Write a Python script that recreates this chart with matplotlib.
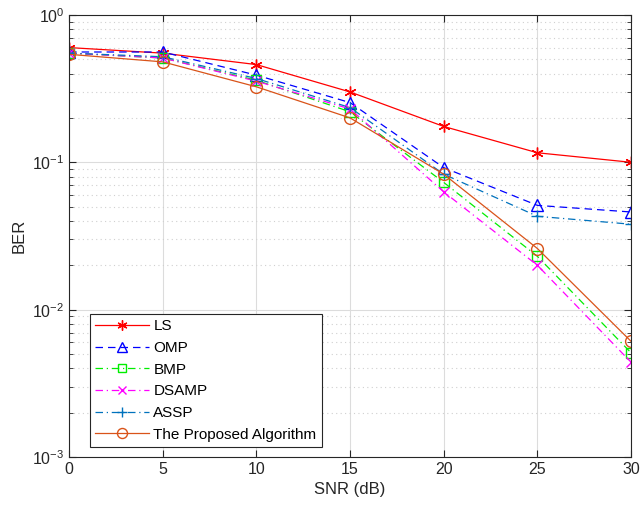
import matplotlib
matplotlib.use("Agg")
import matplotlib.pyplot as plt
from matplotlib.ticker import LogLocator, NullFormatter

plt.rcParams['font.family'] = ['Liberation Sans', 'DejaVu Sans']

snr = [0, 5, 10, 15, 20, 25, 30]
ber_ls = [0.60, 0.55, 0.46, 0.30, 0.175, 0.116, 0.100]
ber_omp = [0.56, 0.56, 0.39, 0.254, 0.092, 0.051, 0.046]
ber_bmp = [0.55, 0.51, 0.36, 0.22, 0.073, 0.023, 0.0051]
ber_dsamp = [0.55, 0.51, 0.355, 0.23, 0.063, 0.020, 0.0044]
ber_assp = [0.55, 0.52, 0.37, 0.235, 0.083, 0.043, 0.038]
ber_prop = [0.54, 0.48, 0.325, 0.20, 0.083, 0.026, 0.0061]

fig = plt.figure(figsize=(6.4, 5.13), dpi=100)
ax = fig.add_axes([0.108, 0.109, 0.878, 0.862])

dashdot = (0, (6, 3, 1, 3))
ax.semilogy(snr, ber_ls, color='red', ls='-', lw=0.9, marker=(6, 2, 0), ms=8.5, label='LS')
ax.semilogy(snr, ber_omp, color='blue', ls=(0, (6, 4)), lw=0.9, marker='^', ms=8.5, mfc='none', label='OMP')
ax.semilogy(snr, ber_bmp, color='#00ee00', ls=dashdot, lw=0.9, marker='s', ms=7.5, mfc='none', label='BMP')
ax.semilogy(snr, ber_dsamp, color='magenta', ls=dashdot, lw=0.9, marker='x', ms=7, mfc='none', label='DSAMP')
ax.semilogy(snr, ber_assp, color='#0072BD', ls=dashdot, lw=0.9, marker='+', ms=9, mfc='none', label='ASSP')
ax.semilogy(snr, ber_prop, color='#D95319', ls='-', lw=0.9, marker='o', ms=8.5, mfc='none', label='The Proposed Algorithm')

ax.set_xlim(0, 30)
ax.set_ylim(1e-3, 1)
ax.set_xticks(snr)
ax.yaxis.set_minor_locator(LogLocator(base=10, subs=range(2, 10)))
ax.yaxis.set_minor_formatter(NullFormatter())

ax.grid(True, which='major', color='#dcdcdc', lw=0.8, ls='-')
ax.grid(True, which='minor', axis='y', color='#d0d0d0', lw=0.8, ls=(0, (1, 3)))
ax.set_axisbelow(True)

ax.tick_params(which='both', direction='in', top=True, right=True, labelsize=11.5, colors='#262626')
ax.tick_params(which='major', length=5)
ax.tick_params(which='minor', length=3)
for s in ax.spines.values():
    s.set_color('#262626')
    s.set_linewidth(0.8)

ax.set_xlabel('SNR (dB)', fontsize=12, color='#262626')
ax.set_ylabel('BER', fontsize=12, color='#262626')

leg = ax.legend(loc='lower left', bbox_to_anchor=(0.037, 0.023), fontsize=11,
                fancybox=False, framealpha=1, edgecolor='#262626', markerscale=0.85,
                handlelength=3.5, borderpad=0.35, labelspacing=0.5, handletextpad=0.3, borderaxespad=0)
leg.get_frame().set_linewidth(0.8)

fig.savefig('out.png', dpi=100)
